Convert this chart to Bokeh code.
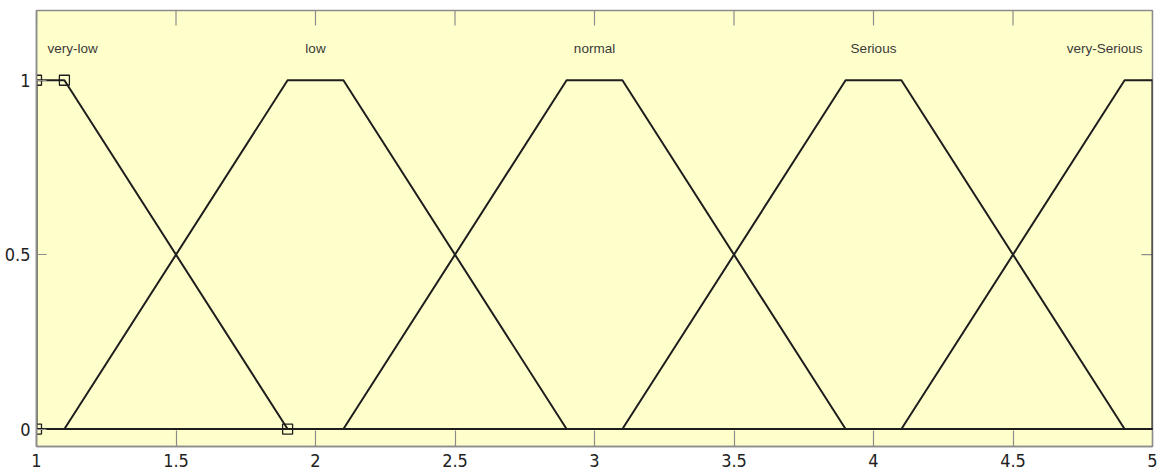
import math
from bokeh.plotting import figure
from bokeh.models import Range1d, LinearAxis, FixedTicker, ColumnDataSource
from bokeh.core.properties import value
from bokeh.embed import file_html
from bokeh.resources import INLINE

# Membership functions (trapezoids a, b, c, d) on the input range 1..5
mf_names = ["very-low", "low", "normal", "Serious", "very-Serious"]
mf_a = [1.0, 1.1, 2.1, 3.1, 4.1]
mf_b = [1.0, 1.9, 2.9, 3.9, 4.9]
mf_c = [1.1, 2.1, 3.1, 4.1, 5.0]
mf_d = [1.9, 2.9, 3.9, 4.9, 5.0]
x_min, x_max = 1.0, 5.0
y_min, y_max = -0.05, 1.2

x_ticks = [1, 1.5, 2, 2.5, 3, 3.5, 4, 4.5, 5]
x_tick_labels = ["1", "1.5", "2", "2.5", "3", "3.5", "4", "4.5", "5"]
y_ticks = [0, 0.5, 1]
y_tick_labels = ["0", "0.5", "1"]

BG = "#FFFFCC"
LINE = "#1e1e1e"
AX = "#8c8c8c"
TICK_FONT = "'Liberation Sans Narrow', 'DejaVu Sans Condensed', 'Liberation Sans', sans-serif"

p = figure(width=1157, height=473, output_backend="svg", toolbar_location=None,
           x_range=Range1d(x_min, x_max), y_range=Range1d(y_min, y_max),
           x_axis_location=None, y_axis_location=None,
           min_border_left=36, min_border_top=10, min_border_right=5, min_border_bottom=27)
p.background_fill_color = BG
p.border_fill_color = "white"
p.outline_line_color = AX
p.outline_line_width = 1.5
p.xgrid.visible = False
p.ygrid.visible = False

def make_axis(ticks, labels, tick_in, standoff, baseline=None):
    ax = LinearAxis(ticker=FixedTicker(ticks=ticks))
    ax.major_label_overrides = {t: l for t, l in zip(ticks, labels)}
    ax.major_tick_in = tick_in
    ax.major_tick_out = 0
    ax.minor_tick_in = 0
    ax.minor_tick_out = 0
    ax.major_tick_line_color = AX
    ax.major_tick_line_width = 1.2
    ax.axis_line_color = AX
    ax.axis_line_width = 1.5
    ax.major_label_text_font = TICK_FONT
    ax.major_label_text_font_size = "18px"
    ax.major_label_text_color = "#222222"
    ax.major_label_standoff = standoff
    if baseline:
        ax.major_label_text_baseline = baseline
    return ax

p.add_layout(make_axis(x_ticks, x_tick_labels, 16, 7), "below")
p.add_layout(make_axis(y_ticks, y_tick_labels, 10, 6, "top"), "left")

# Inner ticks on the top and right edges (half of each dash is clipped by the frame)
p.scatter(x=x_ticks, y=[y_max] * len(x_ticks), marker="dash", size=30, angle=math.pi / 2,
          line_color=AX, line_width=1.2)
p.scatter(x=[x_max] * len(y_ticks), y=y_ticks, marker="dash", size=22,
          line_color=AX, line_width=1.2)

# Draw each membership function across the whole range
for a, b, c, d in zip(mf_a, mf_b, mf_c, mf_d):
    xs = [x_min, a, b, c, d, x_max]
    ys = [0, 0, 1, 1, 0, 0]
    p.line(xs, ys, line_color=LINE, line_width=2)

# Parameter markers of the selected (first) membership function
sel = 0
mk = ColumnDataSource(dict(x=[mf_a[sel], mf_b[sel], mf_c[sel], mf_d[sel]], y=[0, 1, 1, 0]))
p.scatter("x", "y", source=mk, marker="square", size=10, fill_color=None,
          line_color=LINE, line_width=1.3)

# Names of the membership functions above each plateau
label_y = 1.09
centers = [(b + c) / 2 for b, c in zip(mf_b, mf_c)]
mid = ColumnDataSource(dict(x=centers[1:-1], y=[label_y] * 3, t=mf_names[1:-1]))
common = dict(text_font=value("Liberation Sans"), text_font_size="13.5px",
              text_color="#3a3a3a", text_baseline="middle")
p.text("x", "y", text="t", source=mid, text_align="center", **common)
p.text(x=[x_min], y=[label_y], text=[mf_names[0]], text_align="left", x_offset=11, **common)
p.text(x=[x_max], y=[label_y], text=[mf_names[-1]], text_align="right", x_offset=-10, **common)

open("out.html", "w").write(file_html(p, INLINE))
